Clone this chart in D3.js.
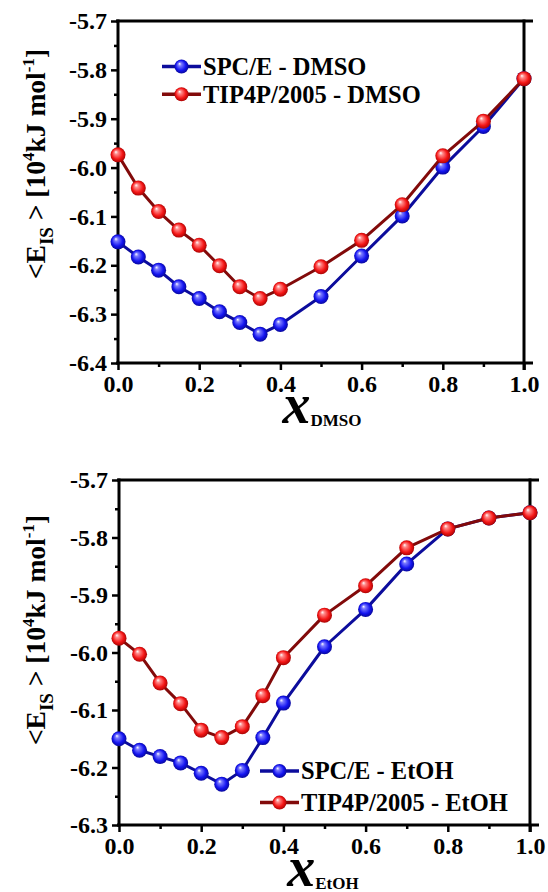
<!DOCTYPE html>
<html>
<head>
<meta charset="utf-8">
<script src="https://cdn.jsdelivr.net/npm/d3@7"></script>
<style>
  html, body { margin: 0; padding: 0; background: #fff; }
  svg { display: block; }
</style>
</head>
<body>
<svg id="fig" width="548" height="892"></svg>
<script>
// Mole fractions sampled in both mixtures
const xDMSO = [0, 0.05, 0.1, 0.15, 0.2, 0.25, 0.3, 0.35, 0.4, 0.5, 0.6, 0.7, 0.8, 0.9, 1.0];
const xEtOH = [0, 0.05, 0.1, 0.15, 0.2, 0.25, 0.3, 0.35, 0.4, 0.5, 0.6, 0.7, 0.8, 0.9, 1.0];

// Average inherent-structure energy, 10^4 kJ/mol
const spceDMSO  = [-6.152, -6.183, -6.210, -6.244, -6.268, -6.295, -6.317, -6.341, -6.321, -6.264, -6.181, -6.099, -5.999, -5.916, -5.818];
const tip4pDMSO = [-5.974, -6.042, -6.090, -6.128, -6.159, -6.201, -6.244, -6.268, -6.249, -6.203, -6.149, -6.076, -5.976, -5.905, -5.818];
const spceEtOH  = [-6.150, -6.170, -6.181, -6.192, -6.210, -6.229, -6.205, -6.148, -6.088, -5.990, -5.925, -5.846, -5.785, -5.766, -5.757];
const tip4pEtOH = [-5.975, -6.003, -6.053, -6.089, -6.135, -6.148, -6.129, -6.075, -6.009, -5.935, -5.884, -5.818, -5.785, -5.766, -5.757];

// Axis tick values
const xTicks = [0, 0.2, 0.4, 0.6, 0.8, 1.0];
const xMinor = [0.1, 0.3, 0.5, 0.7, 0.9];
const yTicksDMSO = [-6.4, -6.3, -6.2, -6.1, -6.0, -5.9, -5.8, -5.7];
const yTicksEtOH = [-6.3, -6.2, -6.1, -6.0, -5.9, -5.8, -5.7];

// Legend entries
const legendDMSO = ["SPC/E - DMSO", "TIP4P/2005 - DMSO"];
const legendEtOH = ["SPC/E - EtOH", "TIP4P/2005 - EtOH"];

const FONT = '"Liberation Serif", "Times New Roman", Tinos, serif';
const svg = d3.select("#fig");
const defs = svg.append("defs");

function setFont(sel, size, italic) {
  sel.style("font-family", FONT).style("font-weight", "bold")
    .style("font-size", size + "px").style("fill", "#000");
  if (italic) sel.style("font-style", "italic");
  return sel;
}

function ballGradient(id, light, base, dark) {
  const g = defs.append("radialGradient").attr("id", id)
    .attr("cx", "50%").attr("cy", "50%").attr("r", "55%")
    .attr("fx", "35%").attr("fy", "30%");
  g.append("stop").attr("offset", "0%").attr("stop-color", "#ffffff");
  g.append("stop").attr("offset", "22%").attr("stop-color", light);
  g.append("stop").attr("offset", "65%").attr("stop-color", base);
  g.append("stop").attr("offset", "100%").attr("stop-color", dark);
}
ballGradient("ballBlue", "#7a7aff", "#1414f0", "#05058a");
ballGradient("ballRed", "#ff8a8a", "#f41616", "#9a0000");

const styles = {
  blue: { line: "#0c0c9c", ball: "url(#ballBlue)" },
  red:  { line: "#820a0a", ball: "url(#ballRed)" }
};
const R = 7.5;

function panel(cfg) {
  const x = d3.scaleLinear().domain([0, 1]).range([cfg.left, cfg.right]);
  const y = d3.scaleLinear().domain(cfg.yDomain).range([cfg.bottom, cfg.top]);
  const g = svg.append("g");

  // Left axis with outward major/minor ticks
  const yMinor = d3.range(cfg.yDomain[0] + 0.05, cfg.yDomain[1], 0.1);
  g.append("g").attr("transform", `translate(${cfg.left},0)`)
    .call(d3.axisLeft(y).tickValues(yMinor).tickSize(4).tickFormat(""))
    .call(s => s.select(".domain").remove())
    .call(s => s.selectAll("line").attr("stroke-width", 2.5));
  g.append("g").attr("transform", `translate(${cfg.left},0)`)
    .call(d3.axisLeft(y).tickValues(cfg.yTicks).tickSize(7).tickPadding(4).tickFormat(d => d3.format(".1f")(d).replace("\u2212", "-")))
    .call(s => s.select(".domain").remove())
    .call(s => s.selectAll("line").attr("stroke-width", 2.5))
    .call(s => setFont(s.selectAll("text"), 24));

  // Bottom axis
  g.append("g").attr("transform", `translate(0,${cfg.bottom})`)
    .call(d3.axisBottom(x).tickValues(xMinor).tickSize(4).tickFormat(""))
    .call(s => s.select(".domain").remove())
    .call(s => s.selectAll("line").attr("stroke-width", 2.5));
  g.append("g").attr("transform", `translate(0,${cfg.bottom})`)
    .call(d3.axisBottom(x).tickValues(xTicks).tickSize(7).tickPadding(5).tickFormat(d3.format(".1f")))
    .call(s => s.select(".domain").remove())
    .call(s => s.selectAll("line").attr("stroke-width", 2.5))
    .call(s => setFont(s.selectAll("text"), 24));

  // Frame
  const fw = 3;
  g.append("line").attr("x1", cfg.left - 2).attr("x2", cfg.right + 9).attr("y1", cfg.top).attr("y2", cfg.top)
    .attr("stroke", "#000").attr("stroke-width", fw);
  g.append("line").attr("x1", cfg.left - 2).attr("x2", cfg.right + 9).attr("y1", cfg.bottom).attr("y2", cfg.bottom)
    .attr("stroke", "#000").attr("stroke-width", fw);
  g.append("line").attr("x1", cfg.left).attr("x2", cfg.left).attr("y1", cfg.top - 1.5).attr("y2", cfg.bottom + 1.5)
    .attr("stroke", "#000").attr("stroke-width", fw);
  g.append("line").attr("x1", cfg.right).attr("x2", cfg.right).attr("y1", cfg.top - 1.5).attr("y2", cfg.bottom + 7)
    .attr("stroke", "#000").attr("stroke-width", fw);

  // Series
  const line = d3.line().x(d => x(d[0])).y(d => y(d[1]));
  cfg.series.forEach(s => {
    const pts = cfg.xs.map((v, i) => [v, s.values[i]]);
    g.append("path").datum(pts).attr("d", line)
      .attr("fill", "none").attr("stroke", styles[s.color].line).attr("stroke-width", 3)
      .attr("stroke-linejoin", "round");
    g.selectAll(null).data(pts).enter().append("circle")
      .attr("cx", d => x(d[0])).attr("cy", d => y(d[1])).attr("r", R)
      .attr("fill", styles[s.color].ball);
  });

  // Legend
  cfg.series.forEach((s, i) => {
    const ly = y(cfg.legendY[i]);
    const lg = g.append("g");
    lg.append("line").attr("x1", cfg.legendX).attr("x2", cfg.legendX + 39).attr("y1", ly).attr("y2", ly)
      .attr("stroke", styles[s.color].line).attr("stroke-width", 3.5);
    lg.append("circle").attr("cx", cfg.legendX + 19.5).attr("cy", ly).attr("r", R - 0.5).attr("fill", styles[s.color].ball);
    setFont(lg.append("text").attr("x", cfg.legendX + 41).attr("y", ly).attr("dy", "0.34em"), 24.5)
      .text(cfg.legend[i]);
  });

  // Y title
  const yt = setFont(g.append("text")
    .attr("transform", `translate(${cfg.yTitleX},${cfg.yTitleY}) rotate(-90)`)
    .attr("text-anchor", "middle"), 27.5);
  yt.append("tspan").text("<E");
  yt.append("tspan").style("font-size", "19px").attr("dy", 8).text("IS");
  yt.append("tspan").attr("dy", -8).text(" >  [10");
  yt.append("tspan").style("font-size", "17px").attr("dy", -11).text("4");
  yt.append("tspan").attr("dy", 11).text("kJ mol");
  yt.append("tspan").style("font-size", "17px").attr("dy", -11).text("-1");
  yt.append("tspan").attr("dy", 11).text("]");

  // X title
  const xt = setFont(g.append("text").attr("x", cfg.xTitleX).attr("y", cfg.xTitleY).attr("text-anchor", "middle"), 56);
  xt.append("tspan").style("font-style", "italic").text("x");
  xt.append("tspan").style("font-size", "17px").attr("dy", 3).text(cfg.sub);
}

panel({
  left: 118, right: 524, top: 21, bottom: 363,
  yDomain: [-6.4, -5.7], yTicks: yTicksDMSO, xs: xDMSO,
  series: [{ values: spceDMSO, color: "blue" }, { values: tip4pDMSO, color: "red" }],
  legend: legendDMSO, legendX: 162, legendY: [-5.793, -5.850],
  yTitleX: 45, yTitleY: 164, xTitleX: 322, xTitleY: 423, sub: "DMSO"
});

panel({
  left: 119, right: 530, top: 480, bottom: 825,
  yDomain: [-6.3, -5.7], yTicks: yTicksEtOH, xs: xEtOH,
  series: [{ values: spceEtOH, color: "blue" }, { values: tip4pEtOH, color: "red" }],
  legend: legendEtOH, legendX: 260, legendY: [-6.206, -6.261],
  yTitleX: 45, yTitleY: 630, xTitleX: 323, xTitleY: 886, sub: "EtOH"
});
</script>
</body>
</html>
